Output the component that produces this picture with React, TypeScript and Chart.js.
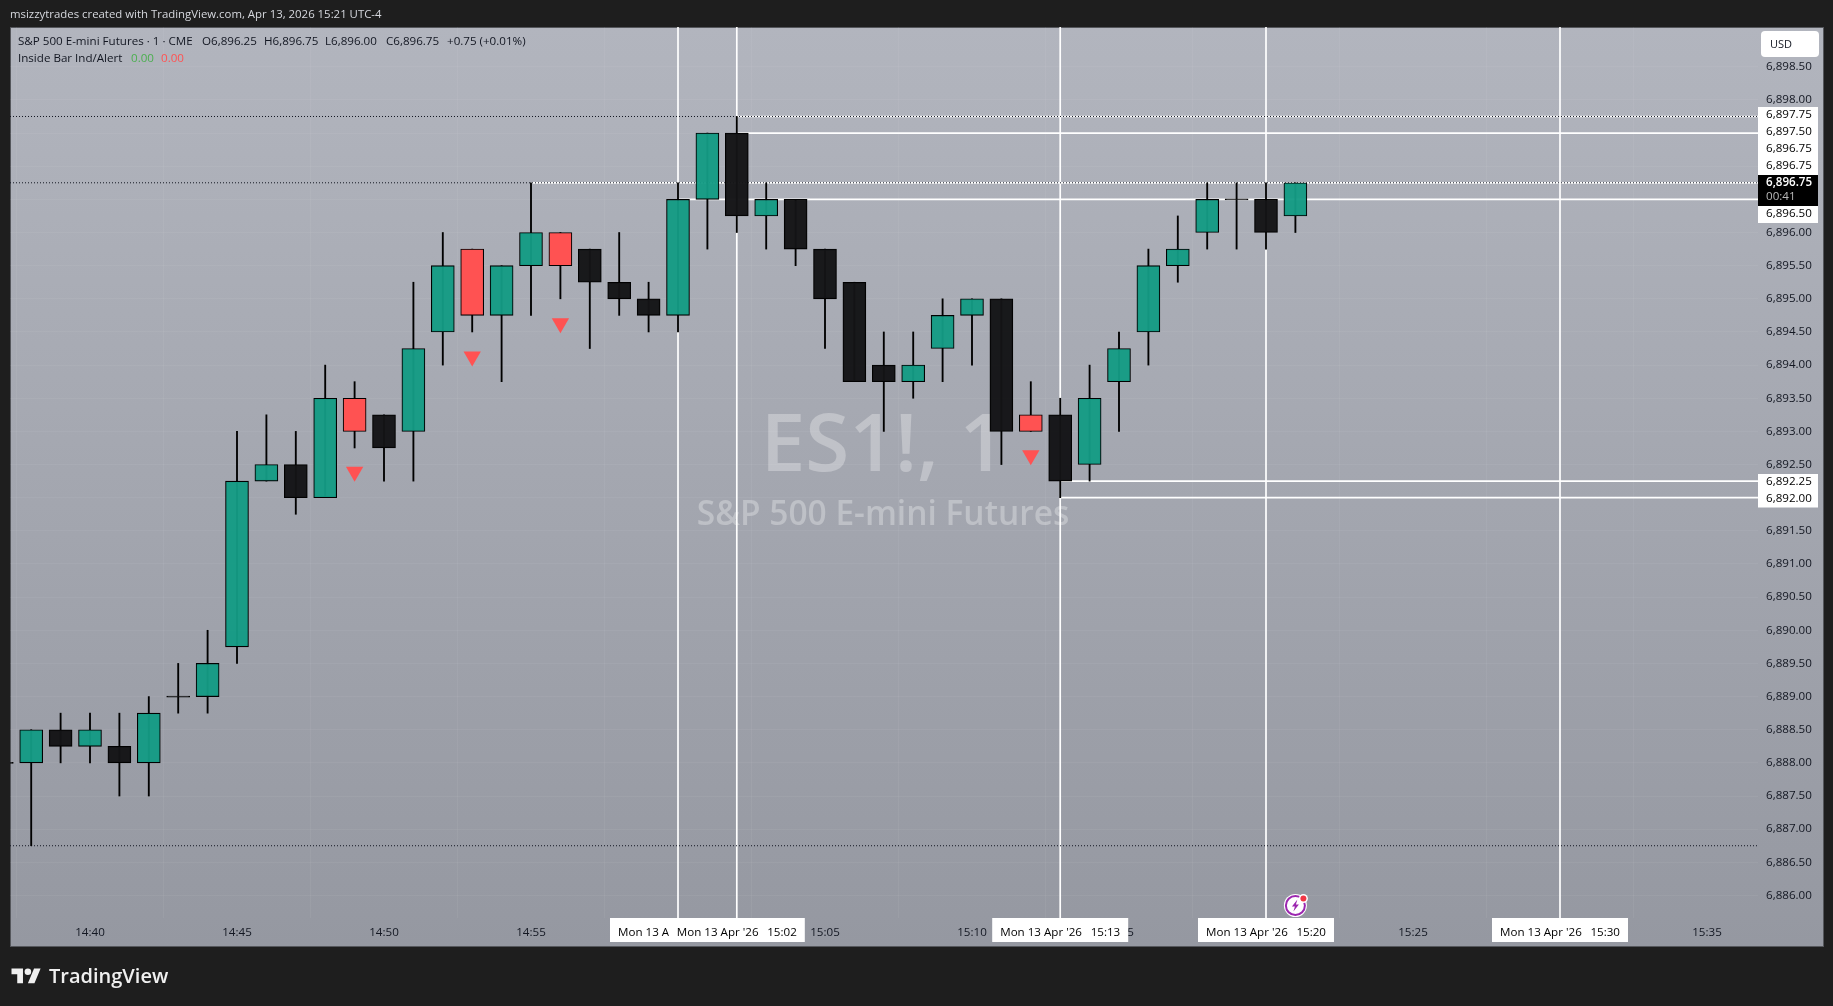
import React, { useEffect, useRef } from "react";
import { Chart, registerables } from "chart.js";

Chart.register(...registerables);

const times = ["14:37","14:38","14:39","14:40","14:41","14:42","14:43","14:44","14:45","14:46","14:47","14:48","14:49","14:50","14:51","14:52","14:53","14:54","14:55","14:56","14:57","14:58","14:59","15:00","15:01","15:02","15:03","15:04","15:05","15:06","15:07","15:08","15:09","15:10","15:11","15:12","15:13","15:14","15:15","15:16","15:17","15:18","15:19","15:20","15:21"];
const opens = [6888,6888,6888.5,6888.25,6888.25,6888,6889,6889,6889.75,6892.25,6892.5,6892,6893.5,6893.25,6893,6894.5,6895.75,6894.75,6895.5,6896,6895.75,6895.25,6895,6894.75,6896.5,6897.5,6896.25,6896.5,6895.75,6895.25,6894,6893.75,6894.25,6894.75,6895,6893.25,6893.25,6892.5,6893.75,6894.5,6895.5,6896,6896.5,6896.5,6896.25];
const highs = [6888,6888.5,6888.75,6888.75,6888.75,6889,6889.5,6890,6893,6893.25,6893,6894,6893.75,6893.25,6895.25,6896,6895.75,6895.5,6896.75,6896,6895.75,6896,6895.25,6896.75,6897.5,6897.75,6896.75,6896.5,6895.75,6895.25,6894.5,6894.5,6895,6895,6895,6893.75,6893.5,6894,6894.5,6895.75,6896.25,6896.75,6896.75,6896.75,6896.75];
const lows = [6888,6886.75,6888,6888,6887.5,6887.5,6888.75,6888.75,6889.5,6892.25,6891.75,6892,6892.75,6892.25,6892.25,6894,6894.5,6893.75,6894.75,6895,6894.25,6894.75,6894.5,6894.5,6895.75,6896,6895.75,6895.5,6894.25,6893.75,6893,6893.5,6893.75,6894,6892.5,6893,6892,6892.25,6893,6894,6895.25,6895.75,6895.75,6895.75,6896];
const closes = [6888,6888.5,6888.25,6888.5,6888,6888.75,6889,6889.5,6892.25,6892.5,6892,6893.5,6893,6892.75,6894.25,6895.5,6894.75,6895.5,6896,6895.5,6895.25,6895,6894.75,6896.5,6897.5,6896.25,6896.5,6895.75,6895,6893.75,6893.75,6894,6894.75,6895,6893,6893,6892.25,6893.5,6894.25,6895.5,6895.75,6896.5,6896.5,6896,6896.75];
const insideBarTimes = ["14:49","14:53","14:56","15:12"];
const markerPrices = [6892.39,6894.13,6894.63,6892.64];

const timeTicks = ["14:40","14:45","14:50","14:55","15:00","15:05","15:10","15:15","15:20","15:25","15:30","15:35"];
const priceTicks = [6886,6886.5,6887,6887.5,6888,6888.5,6889,6889.5,6890,6890.5,6891,6891.5,6892,6892.5,6893,6893.5,6894,6894.5,6895,6895.5,6896,6896.5,6897,6897.5,6898,6898.5];

const dottedLevels = [6897.75,6896.75,6886.75];
const rayStarts = ["15:02","15:02","14:55","15:00","15:13","15:13"];
const rayLevels = [6897.75,6897.5,6896.75,6896.5,6892.25,6892];
const verticalTimes = ["15:00","15:02","15:13","15:20","15:30"];

const upperTags = [6897.75,6897.5,6896.75,6896.75];
const lastPrice = 6896.75;
const countdown = "00:41";
const tagBelowLast = 6896.5;
const lowerTags = [6892.25,6892];

const headerText = "msizzytrades created with TradingView.com, Apr 13, 2026 15:21 UTC-4";
const symbolText = "S&P 500 E-mini Futures · 1 · CME";
const ohlcTexts = ["O6,896.25","H6,896.75","L6,896.00","C6,896.75","+0.75 (+0.01%)"];
const indicatorName = "Inside Bar Ind/Alert";
const indicatorValues = ["0.00","0.00"];
const watermarkMain = "ES1!, 1";
const watermarkSub = "S&P 500 E-mini Futures";
const currency = "USD";
const brandName = "TradingView";
const crosshairDate = "Mon 13 Apr '26";

const FONT = '"Open Sans"';
const FONT_PX = 11.6;
const UP = "rgba(20,155,132,0.96)";
const DOWN = "rgba(20,20,22,0.97)";
const RED = "#ff5252";

const toMin = (s: string) => {
  const [h, m] = s.split(":").map(Number);
  return h * 60 + m;
};
const fromMin = (v: number) => {
  const h = Math.floor(v / 60);
  const m = v - h * 60;
  return `${String(h).padStart(2, "0")}:${String(m).padStart(2, "0")}`;
};
const fmtPrice = (v: number) =>
  v.toLocaleString("en-US", { minimumFractionDigits: 2, maximumFractionDigits: 2 });

const X_MIN = toMin("14:40") - 80 / 29.4;
const X_MAX = toMin("14:40") + 1668 / 29.4;
const Y_MAX = 6899.1;
const Y_MIN = 6885.66;

const text = (
  ctx: CanvasRenderingContext2D,
  s: string,
  x: number,
  y: number,
  font: string,
  color: string,
  align: CanvasTextAlign = "left"
) => {
  ctx.font = font;
  ctx.fillStyle = color;
  ctx.textAlign = align;
  ctx.textBaseline = "middle";
  ctx.fillText(s, x, y);
};

const backdrop = {
  id: "backdrop",
  beforeDraw(chart: any) {
    const { ctx, width, height } = chart;
    ctx.save();
    ctx.fillStyle = "#1e1e1e";
    ctx.fillRect(0, 0, width, height);
    const g = ctx.createLinearGradient(0, 27, 0, 946);
    g.addColorStop(0, "#b2b5be");
    g.addColorStop(1, "#9598a1");
    ctx.fillStyle = g;
    ctx.fillRect(10, 27, 1813, 919);
    ctx.strokeStyle = "#55575c";
    ctx.lineWidth = 1;
    ctx.strokeRect(10.5, 27.5, 1813, 919);
    text(ctx, headerText, 10, 15, `11.4px ${FONT}`, "#d6d8de");
    ctx.restore();
  },
  beforeDatasetsDraw(chart: any) {
    const { ctx } = chart;
    ctx.save();
    text(ctx, watermarkMain, 883, 448, `600 80px "Open Sans"`, "rgba(255,255,255,0.3)", "center");
    text(ctx, watermarkSub, 883, 515, `600 33.5px "Open Sans"`, "rgba(255,255,255,0.3)", "center");
    ctx.restore();
  },
};

const overlay = {
  id: "overlay",
  afterDraw(chart: any) {
    const { ctx, scales } = chart;
    const yS = scales.y;
    const xS = scales.x;
    ctx.save();

    // legend
    const ink = "#131722";
    const lf = `${FONT_PX}px ${FONT}`;
    text(ctx, symbolText, 18, 42, lf, ink);
    const xs = [202, 264, 325, 386, 447];
    ohlcTexts.forEach((s, i) => text(ctx, s, xs[i], 42, lf, ink));
    text(ctx, indicatorName, 18, 59, lf, ink);
    text(ctx, indicatorValues[0], 131, 59, lf, "#4caf50");
    text(ctx, indicatorValues[1], 161, 59, lf, RED);

    // currency button
    ctx.fillStyle = "#ffffff";
    ctx.beginPath();
    ctx.roundRect(1761, 31, 58, 26, 4);
    ctx.fill();
    text(ctx, currency, 1770, 44.5, `${FONT_PX - 0.6}px ${FONT}`, ink);

    // price tags
    const tx = 1766;
    const left = 1758;
    const w = 60;
    const step = 17;
    const tagFont = `${FONT_PX}px ${FONT}`;
    const top = Math.round(yS.getPixelForValue(upperTags[0]) - 9.4);
    ctx.fillStyle = "#ffffff";
    ctx.fillRect(left, top, w, step * upperTags.length);
    upperTags.forEach((v, i) => text(ctx, fmtPrice(v), tx, top + step * i + 8, tagFont, "#000"));
    const lastTop = top + step * upperTags.length;
    ctx.fillStyle = "#000000";
    ctx.fillRect(left, lastTop, w, 31);
    text(ctx, fmtPrice(lastPrice), tx, lastTop + 8, `600 ${FONT_PX}px ${FONT}`, "#fff");
    text(ctx, countdown, tx, lastTop + 22, tagFont, "#b8b8b8");
    ctx.fillStyle = "#ffffff";
    ctx.fillRect(left, lastTop + 31, w, step);
    text(ctx, fmtPrice(tagBelowLast), tx, lastTop + 39, tagFont, "#000");
    const lowTop = Math.round(yS.getPixelForValue(lowerTags[0]) - 7);
    ctx.fillStyle = "#ffffff";
    ctx.fillRect(left, lowTop, w, 33.5);
    lowerTags.forEach((v, i) => text(ctx, fmtPrice(v), tx, lowTop + 8 + 16.7 * i, tagFont, "#000"));

    // time tags
    const boxW = 136;
    const tagTop = 918;
    const tagH = 24;
    verticalTimes.forEach((t) => {
      const cx = xS.getPixelForValue(toMin(t));
      ctx.fillStyle = "#ffffff";
      ctx.fillRect(cx - boxW / 2, tagTop, boxW, tagH);
      ctx.save();
      ctx.beginPath();
      ctx.rect(cx - boxW / 2, tagTop, boxW, tagH);
      ctx.clip();
      text(ctx, crosshairDate, cx - boxW / 2 + 8, tagTop + 15, tagFont, "#000");
      text(ctx, t, cx + boxW / 2 - 8, tagTop + 15, tagFont, "#000", "right");
      ctx.restore();
    });

    // alert icon on the last bar
    const ix = xS.getPixelForValue(toMin(times[times.length - 1]));
    const iy = 905.5;
    ctx.fillStyle = "#ffffff";
    ctx.beginPath();
    ctx.arc(ix, iy, 11.5, 0, Math.PI * 2);
    ctx.fill();
    ctx.strokeStyle = "#9c27b0";
    ctx.lineWidth = 2;
    ctx.beginPath();
    ctx.arc(ix, iy, 9.5, 0, Math.PI * 2);
    ctx.stroke();
    ctx.fillStyle = "#9c27b0";
    ctx.beginPath();
    ctx.moveTo(ix + 2, iy - 6);
    ctx.lineTo(ix - 3.5, iy + 1);
    ctx.lineTo(ix - 0.5, iy + 1);
    ctx.lineTo(ix - 2, iy + 6);
    ctx.lineTo(ix + 3.5, iy - 1);
    ctx.lineTo(ix + 0.5, iy - 1);
    ctx.closePath();
    ctx.fill();
    ctx.fillStyle = "#ffffff";
    ctx.beginPath();
    ctx.arc(ix + 8, iy - 7, 4.5, 0, Math.PI * 2);
    ctx.fill();
    ctx.fillStyle = "#f23645";
    ctx.beginPath();
    ctx.arc(ix + 8, iy - 7, 3, 0, Math.PI * 2);
    ctx.fill();

    // brand
    ctx.save();
    ctx.translate(11.5, 968.5);
    ctx.scale(0.82, 0.82);
    ctx.fillStyle = "#f0f0f0";
    ctx.fill(new Path2D("M14 18H7V7H0V0h14v18zM28 18h-8L27.5 0h8L28 18z"));
    ctx.beginPath();
    ctx.arc(20, 4, 4, 0, Math.PI * 2);
    ctx.fill();
    ctx.restore();
    text(ctx, brandName, 49, 977, `600 20px "Open Sans"`, "#f0f0f0");

    ctx.restore();
  },
};

export default function App() {
  const ref = useRef<HTMLCanvasElement>(null);
  useEffect(() => {
    document.body.style.background = "#1e1e1e";
    const xs = times.map(toMin);
    const colors = times.map((t, i) =>
      insideBarTimes.includes(t) ? RED : closes[i] > opens[i] ? UP : DOWN
    );
    const bodies = times.map((_, i) => ({
      x: xs[i],
      y:
        opens[i] === closes[i]
          ? [opens[i] - 0.008, opens[i] + 0.008]
          : [Math.min(opens[i], closes[i]), Math.max(opens[i], closes[i])],
    }));
    const wicks = times.map((_, i) => ({ x: xs[i], y: [lows[i], highs[i]] }));

    const lineBase = { type: "line" as const, pointRadius: 0, tension: 0, order: 4 };
    const rays = rayLevels.map((lvl, i) => ({
      ...lineBase,
      data: [
        { x: toMin(rayStarts[i]), y: lvl },
        { x: X_MAX, y: lvl },
      ],
      borderColor: "#ffffff",
      borderWidth: 1.7,
    }));
    const verticals = verticalTimes.map((t) => ({
      ...lineBase,
      data: [
        { x: toMin(t), y: Y_MIN },
        { x: toMin(t), y: Y_MAX },
      ],
      borderColor: "#ffffff",
      borderWidth: 1.7,
    }));
    const dotted = dottedLevels.map((lvl) => ({
      ...lineBase,
      order: 3,
      data: [
        { x: X_MIN, y: lvl },
        { x: X_MAX, y: lvl },
      ],
      borderColor: "#131722",
      borderWidth: 1,
      borderDash: [1, 2],
    }));

    const chart = new Chart(ref.current as HTMLCanvasElement, {
      type: "bar",
      data: {
        datasets: [
          ...verticals,
          ...rays,
          ...dotted,
          {
            type: "bar",
            data: wicks,
            backgroundColor: "#000000",
            borderWidth: 0,
            barThickness: 1.2,
            grouped: false,
            order: 2,
          },
          {
            type: "bar",
            data: bodies,
            backgroundColor: colors,
            borderColor: "#000000",
            borderWidth: 1.1,
            borderSkipped: false,
            barThickness: 23,
            grouped: false,
            order: 1,
          },
          {
            type: "scatter",
            data: insideBarTimes.map((t, i) => ({ x: toMin(t), y: markerPrices[i] })),
            pointStyle: "triangle",
            rotation: 180,
            pointRadius: 10,
            backgroundColor: RED,
            borderWidth: 0,
            order: 0,
          },
        ] as any,
      },
      options: {
        animation: false,
        responsive: false,
        devicePixelRatio: 1,
        layout: { padding: { left: 10, top: 27, right: 10, bottom: 60 } },
        plugins: { legend: { display: false }, tooltip: { enabled: false } },
        scales: {
          x: {
            type: "linear",
            min: X_MIN,
            max: X_MAX,
            offset: false,
            afterBuildTicks: (s: any) => {
              s.ticks = timeTicks.map((t) => ({ value: toMin(t) }));
            },
            afterFit: (s: any) => {
              s.height = 28;
              s.paddingLeft = s.paddingRight = 0;
            },
            ticks: {
              autoSkip: false,
              maxRotation: 0,
              padding: 8,
              color: "#131722",
              font: { family: "Open Sans", size: FONT_PX },
              callback: (v: any) => fromMin(Number(v)),
            },
            grid: { color: "rgba(255,255,255,0.05)", drawTicks: false },
            border: { display: false },
          },
          y: {
            position: "right",
            min: Y_MIN,
            max: Y_MAX,
            afterBuildTicks: (s: any) => {
              s.ticks = priceTicks.map((v) => ({ value: v }));
            },
            afterFit: (s: any) => {
              s.width = 65;
              s.paddingTop = s.paddingBottom = 0;
            },
            ticks: {
              autoSkip: false,
              padding: 8,
              color: "#131722",
              font: { family: "Open Sans", size: FONT_PX },
              callback: (v: any) => fmtPrice(Number(v)),
            },
            grid: { color: "rgba(255,255,255,0.05)", drawTicks: false },
            border: { display: false },
          },
        },
      },
      plugins: [backdrop, overlay],
    } as any);
    return () => chart.destroy();
  }, []);
  return (
    <canvas
      ref={ref}
      width={1833}
      height={1006}
      style={{ position: "absolute", left: 0, top: 0, display: "block", width: 1833, height: 1006 }}
    />
  );
}
